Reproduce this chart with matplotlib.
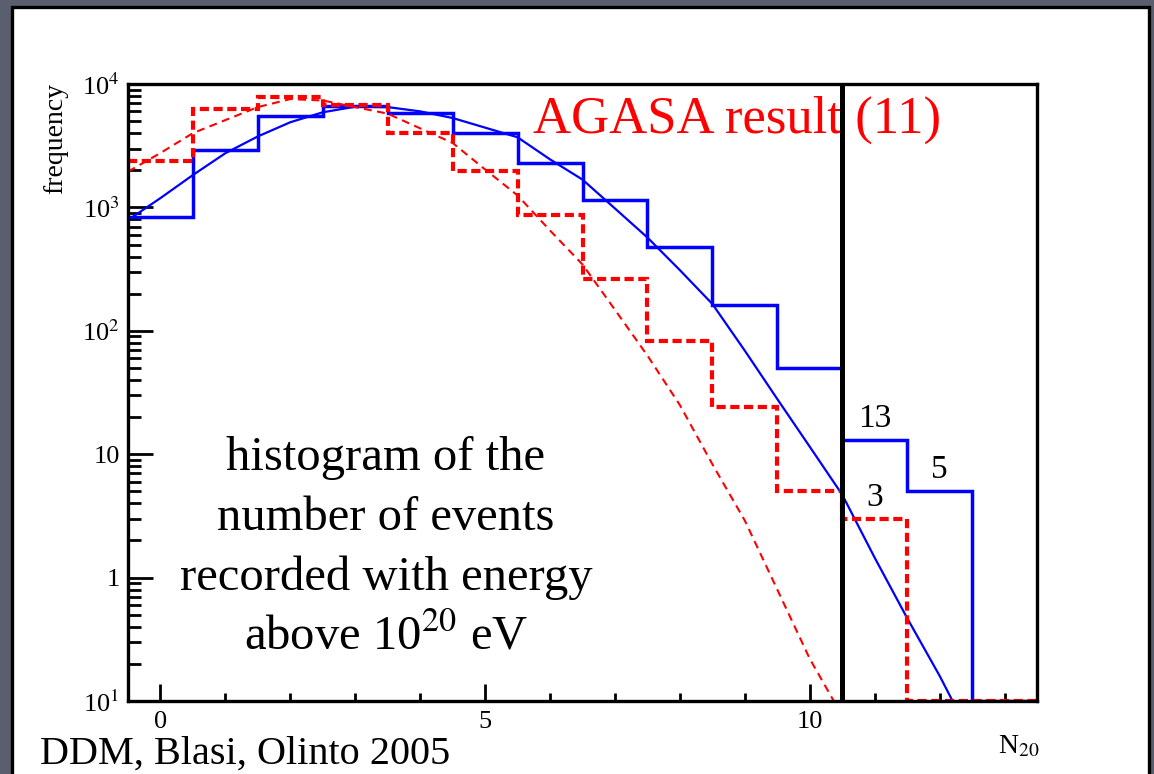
import numpy as np
import matplotlib
matplotlib.use('Agg')
import matplotlib.pyplot as plt
from matplotlib.patches import Rectangle
from matplotlib.ticker import LogLocator, FixedLocator, FixedFormatter, NullFormatter

plt.rcParams['font.family'] = ['Liberation Serif', 'DejaVu Serif']
plt.rcParams['mathtext.fontset'] = 'stix'

# ── Data ──────────────────────────────────────────────────────────────────────
n20 = list(range(14))                                   # bin centres 0..13
sim_counts = [830, 2900, 5500, 6640, 5800, 4000, 2300, 1140, 480, 163, 50, 13, 5, 0]
agasa_counts = [2380, 6300, 7850, 6700, 4030, 1980, 860, 262, 83, 24, 5, 3, 0, 0]

blue_x = [-0.5, 0, 0.5, 1, 1.5, 2, 2.5, 3, 3.5, 4, 4.5, 5, 5.5, 6, 6.5, 7, 7.5,
          8, 8.5, 9, 9.5, 10, 10.5, 11, 11.5, 12, 12.2]
blue_y = [790, 1190, 1830, 2750, 3760, 4900, 5900, 6550, 6500, 6000, 5300, 4430,
          3700, 2450, 1680, 980, 570, 310, 165, 69, 28, 11.5, 4.7, 1.45, 0.47, 0.16, 0.1]

red_x = [-0.5, 0, 0.5, 1, 1.5, 2, 2.5, 3, 3.5, 4, 4.5, 5, 5.5, 6, 6.5, 7, 7.5,
         8, 8.5, 9, 9.5, 10, 10.37]
red_y = [1950, 2760, 4000, 5100, 6500, 7550, 7350, 6500, 5750, 4370, 3330, 2030,
         1250, 650, 345, 148, 63, 25, 8.3, 2.9, 0.8, 0.22, 0.1]

agasa_n = 10.5
label_bins = [(11, 13), (12, 5), (11, 3)]

ytick_vals = [1e-1, 1, 10, 1e2, 1e3, 1e4]
ytick_text = ['10$^{1}$', '1', '10', '10$^{2}$', '10$^{3}$', '10$^{4}$']
xtick_major = [0, 5, 10]

note_lines = ['histogram of the', 'number of events',
              'recorded with energy', 'above 10$^{20}$ eV']

# ── Figure ────────────────────────────────────────────────────────────────────
W, H = 1154, 774
fig = plt.figure(figsize=(W / 100, H / 100), dpi=100, facecolor='#5b5e6f')
fig.add_artist(Rectangle((12 / W, -0.02), (1149 - 12) / W, 1 - 7 / H + 0.02,
                         transform=fig.transFigure, facecolor='white',
                         edgecolor='black', lw=2.4, zorder=0))

ax = fig.add_axes([128 / W, 73 / H, 909 / W, 617 / H])
ax.set_facecolor('white')
ax.set_yscale('log')
ax.set_xlim(-0.5, 13.5)
ymin, ymax = 0.1, 1e4
ax.set_ylim(ymin, ymax)

edges = np.append(np.array(n20) - 0.5, n20[-1] + 0.5)
sim_draw = np.where(np.array(sim_counts) > 0, sim_counts, ymin)
ag_draw = np.where(np.array(agasa_counts) > 0, agasa_counts, ymin)

ax.stairs(sim_draw, edges, baseline=None, color='#0000ff', lw=2.5, zorder=3)
ax.plot(blue_x, blue_y, color='#0000ff', lw=1.6, zorder=3)
ax.stairs(ag_draw, edges, baseline=None, color='#ff0000', lw=3,
          linestyle=(0, (2.2, 1.1)), zorder=4)
ax.plot(red_x, red_y, color='#ff0000', lw=1.5, linestyle=(0, (3.8, 2.6)), zorder=4)

ax.axvline(agasa_n, color='black', lw=3.6, zorder=6)

for b, c in label_bins:
    ax.annotate(str(c), xy=(b, c), xytext=(0, 9.5), textcoords='offset points',
                ha='center', va='baseline', fontsize=24, zorder=5)

ax.text(5.74, 4010, 'AGASA result (11)', color='#ff0000', fontsize=38,
        ha='left', va='baseline', zorder=2)

# ── Axes styling ──────────────────────────────────────────────────────────────
for s in ax.spines.values():
    s.set_linewidth(2.4)
    s.set_zorder(7)

ax.yaxis.set_major_locator(FixedLocator(ytick_vals))
ax.yaxis.set_major_formatter(FixedFormatter(ytick_text))
ax.yaxis.set_minor_locator(LogLocator(base=10, subs=np.arange(2, 10), numticks=20))
ax.yaxis.set_minor_formatter(NullFormatter())
ax.xaxis.set_major_locator(FixedLocator(xtick_major))
ax.xaxis.set_minor_locator(FixedLocator(n20))

ax.tick_params(axis='y', which='major', direction='in', length=18, width=2,
               labelsize=19, pad=6, right=False)
ax.tick_params(axis='y', which='minor', direction='in', length=9.5, width=2, right=False)
ax.tick_params(axis='x', which='major', direction='in', length=12, width=2,
               labelsize=19, pad=7, top=False)
ax.tick_params(axis='x', which='minor', direction='in', length=5.5, width=2, top=False)

# ── Texts outside the frame ──────────────────────────────────────────────────
fig.text(56 / W, 1 - 83 / H, 'frequency', rotation=90, ha='center', va='top',
         fontsize=20)
fig.text(1040 / W, 1 - 753 / H, 'N$_{20}$', ha='right', va='baseline', fontsize=20)
fig.text(40 / W, 1 - 764 / H, 'DDM, Blasi, Olinto 2005', ha='left',
         va='baseline', fontsize=29)

for i, line in enumerate(note_lines):
    fig.text(386 / W, 1 - (470 + 60 * i) / H, line, ha='center', va='baseline',
             fontsize=35)

fig.savefig('out.png', dpi=100, facecolor=fig.get_facecolor())
